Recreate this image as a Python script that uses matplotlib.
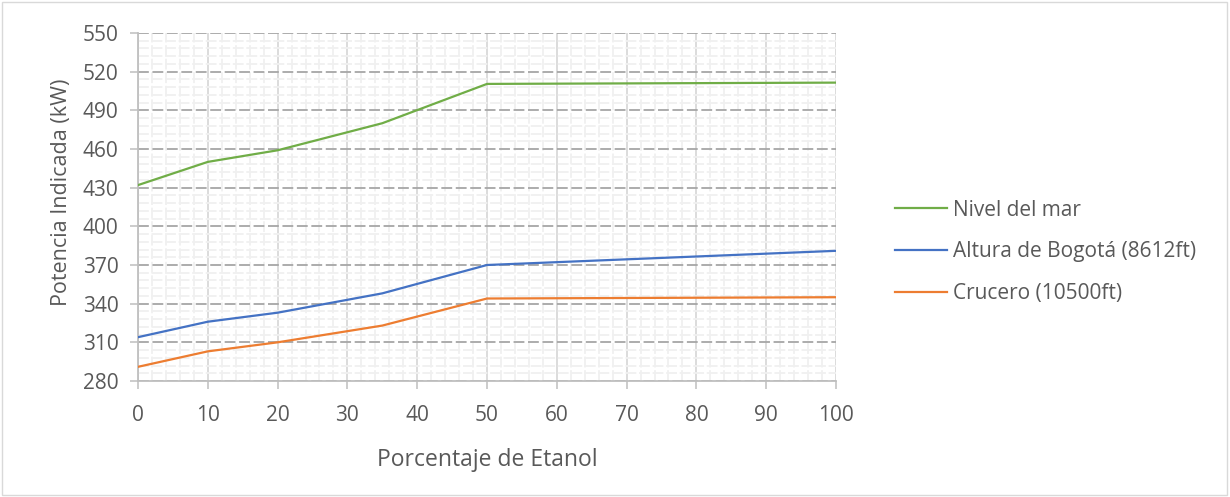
import matplotlib.pyplot as plt
from matplotlib.patches import Rectangle
from matplotlib.ticker import FixedLocator, MultipleLocator

plt.rcParams['font.family'] = ['Open Sans', 'DejaVu Sans']

# porcentaje de etanol en la mezcla
etanol = [0, 10, 20, 35, 50, 100]
# potencia indicada (kW) por condicion
nivel_mar = [432, 450, 459, 480, 510.5, 511.5]
bogota = [314, 326, 333, 348, 370, 381]
crucero = [291, 303, 310, 323, 344, 345]

y_ticks = list(range(280, 551, 30))
y_minor = list(range(280, 551, 6))

series = [
    ('Nivel del mar', nivel_mar, '#70ad47'),
    ('Altura de Bogotá (8612ft)', bogota, '#4472c4'),
    ('Crucero (10500ft)', crucero, '#ed7d31'),
]

texto = '#595959'

fig = plt.figure(figsize=(12.3, 4.97), dpi=100)
ax = fig.add_axes([138/1230, 1-381/497, 698/1230, 348/497])

for nombre, valores, color in series:
    ax.plot(etanol, valores, color=color, linewidth=1.6, label=nombre, zorder=5)

ax.set_xlim(0, 100)
ax.set_ylim(280, 550)
ax.xaxis.set_major_locator(MultipleLocator(10))
ax.xaxis.set_minor_locator(MultipleLocator(2))
ax.yaxis.set_major_locator(FixedLocator(y_ticks))
ax.yaxis.set_minor_locator(FixedLocator(y_minor))

ax.grid(which='minor', axis='both', color='#f0f0f0', linewidth=1.3,
        linestyle=(0, (6, 1.5)), zorder=0)
ax.grid(which='major', axis='x', color='#d9d9d9', linewidth=1.3, zorder=1)
ax.grid(which='major', axis='y', color='#a6a6a6', linewidth=1.3,
        linestyle=(0, (6, 2)), zorder=2)
ax.set_axisbelow(True)

for lado in ['top', 'right']:
    ax.spines[lado].set_visible(False)
ax.spines['left'].set_color('#bfbfbf')
ax.spines['bottom'].set_color('#bfbfbf')
ax.spines['left'].set_linewidth(1.3)
ax.spines['bottom'].set_linewidth(1.3)

ax.tick_params(which='major', length=6, width=1.1, color='#bfbfbf',
               labelsize=15, labelcolor=texto)
ax.tick_params(axis='x', pad=11)
ax.tick_params(axis='y', pad=8)
ax.tick_params(which='minor', length=0)

ax.set_xlabel('Porcentaje de Etanol', fontsize=16.5, color=texto, labelpad=16)
ax.set_ylabel('Potencia Indicada (kW)', fontsize=15.5, color=texto)
ax.yaxis.set_label_coords(-0.095, 0.543)

ax.legend(loc='center left', bbox_to_anchor=(1.057, 0.371), frameon=False,
          fontsize=15, labelcolor=texto, handlelength=2.5, handletextpad=0.3,
          labelspacing=1.0)

fig.patches.append(Rectangle((2/1230, 2/497), 1225/1230, 493/497,
                             transform=fig.transFigure, fill=False,
                             edgecolor='#d9d9d9', linewidth=1))

fig.savefig('out.png', dpi=100)
